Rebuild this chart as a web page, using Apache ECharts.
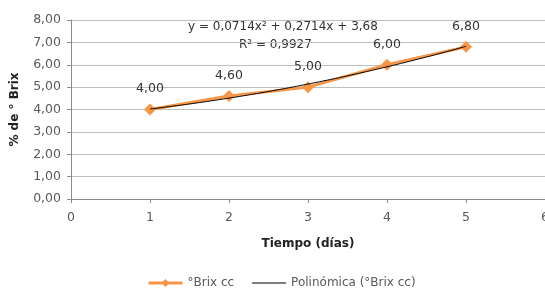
<!DOCTYPE html>
<html>
<head>
<meta charset="utf-8">
<script src="https://cdn.jsdelivr.net/npm/echarts@6/dist/echarts.min.js"></script>
<style>
  html, body { margin: 0; padding: 0; background: #fff; }
  #chart { width: 545px; height: 291px; }
</style>
</head>
<body>
<div id="chart"></div>
<script>
// days and °Brix readings
const dias = [1, 2, 3, 4, 5];
const brix = [4.0, 4.6, 5.0, 6.0, 6.8];
// trendline coefficients as printed on the chart: y = a x^2 + b x + c
const coef = [0.0714, 0.2714, 3.68];
const r2 = 0.9927;

const fmt = (v, d) => v.toFixed(d).replace(".", ",");

var brixData = dias.map((d, i) => [d, brix[i]]);
var trendData = [];
for (let x = dias[0]; x <= dias[dias.length - 1] + 1e-9; x += 0.1) {
  trendData.push([x, coef[0] * x * x + coef[1] * x + coef[2]]);
}

const font = "DejaVu Sans";
const grey = "#595959";

var myChart = echarts.init(document.getElementById("chart"), null, { renderer: "canvas" });
myChart.setOption({
  animation: false,
  textStyle: { fontFamily: font },
  grid: { left: 71, right: 0, top: 20, bottom: 92, outerBoundsMode: "none", containLabel: false },
  xAxis: {
    type: "value",
    min: 0,
    max: 6,
    interval: 1,
    name: "Tiempo (días)",
    nameLocation: "middle",
    nameGap: 39,
    nameTextStyle: { fontFamily: font, fontWeight: "bold", fontSize: 12, color: "#222" },
    axisLine: { lineStyle: { color: "#8c8c8c" } },
    axisTick: { show: true, length: 4, lineStyle: { color: "#8c8c8c" } },
    axisLabel: { color: grey, fontSize: 12.5, margin: 12, hideOverlap: false },
    splitLine: { show: false },
  },
  yAxis: {
    type: "value",
    min: 0,
    max: 8,
    interval: 1,
    name: "% de ° Brix",
    nameLocation: "middle",
    nameGap: 50,
    nameRotate: 90,
    nameTextStyle: { fontFamily: font, fontWeight: "bold", fontSize: 12, color: "#222" },
    axisLine: { show: true, lineStyle: { color: "#8c8c8c" } },
    axisTick: { show: true, length: 4, lineStyle: { color: "#8c8c8c" } },
    axisLabel: { color: grey, fontSize: 12.5, margin: 10, formatter: (v) => fmt(v, 2) },
    splitLine: { lineStyle: { color: "#bfbfbf" } },
  },
  legend: {
    bottom: -3,
    left: 142,
    itemGap: 18,
    itemWidth: 34,
    itemHeight: 10,
    textStyle: { color: grey, fontSize: 12, fontFamily: font },
    data: [
      { name: "°Brix cc", lineStyle: { width: 3 } },
      { name: "Polinómica (°Brix cc)", icon: "path://M0,0 L34,0 L34,1 L0,1 Z" },
    ],
  },
  graphic: [
    {
      type: "text",
      left: 188,
      top: 21,
      style: {
        text: "y = " + fmt(coef[0], 4) + "x² + " + fmt(coef[1], 4) + "x + " + fmt(coef[2], 2),
        font: "12px " + font,
        fill: "#333",
      },
    },
    {
      type: "text",
      left: 239,
      top: 39,
      style: { text: "R² = " + fmt(r2, 4), font: "12px " + font, fill: "#333" },
    },
  ],
  series: [
    {
      name: "°Brix cc",
      type: "line",
      data: brixData,
      symbol: "diamond",
      symbolSize: 12,
      color: "#F79646",
      lineStyle: { width: 3, color: "#F79646" },
      itemStyle: { color: "#F79646" },
      label: {
        show: true,
        position: "top",
        distance: 8,
        color: "#333",
        fontSize: 12.5,
        fontFamily: font,
        formatter: (p) => fmt(p.value[1], 2),
      },
      z: 2,
    },
    {
      name: "Polinómica (°Brix cc)",
      type: "line",
      data: trendData,
      symbol: "none",
      smooth: true,
      color: "#000",
      lineStyle: { width: 1, color: "#000" },
      z: 3,
    },
  ],
});
</script>
</body>
</html>
